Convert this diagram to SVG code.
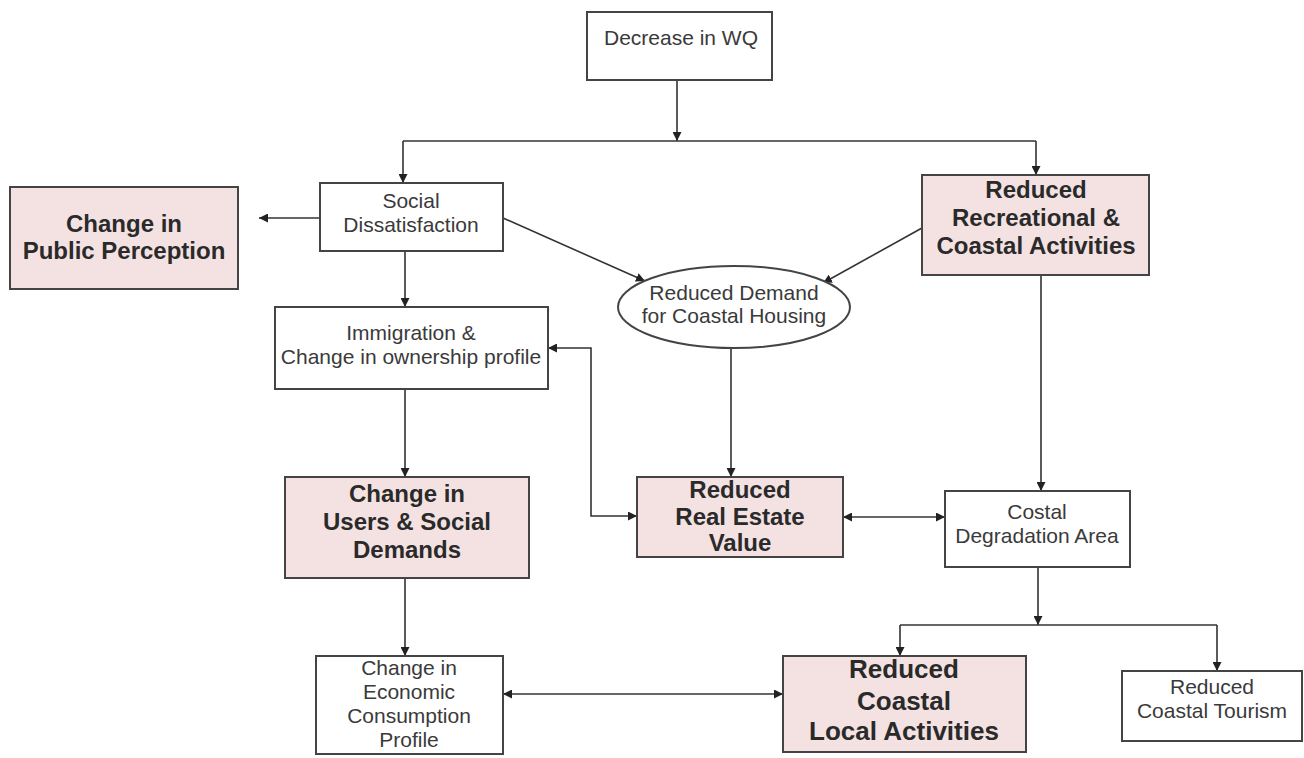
<svg xmlns="http://www.w3.org/2000/svg" width="1304" height="758" viewBox="0 0 1304 758">
<defs>
<marker id="ah" viewBox="0 0 10 10" refX="10" refY="5" markerWidth="9" markerHeight="9" markerUnits="userSpaceOnUse" orient="auto-start-reverse">
<path d="M0,0 L10,5 L0,10 z" fill="#222"/>
</marker>
<style>
.box{fill:#ffffff;stroke:#444;stroke-width:2}
.pink{fill:#f4e2e2;stroke:#444;stroke-width:2}
.t{font-family:"Liberation Sans",Arial,sans-serif;font-size:21px;fill:#3a3a3a;text-anchor:middle}
.b{font-family:"Liberation Sans",Arial,sans-serif;font-size:24px;font-weight:bold;fill:#2a2a2a;text-anchor:middle}
.c{fill:none;stroke:#333;stroke-width:1.6}
</style>
</defs>
<rect width="1304" height="758" fill="#ffffff"/>
<g id="connectors">
<line class="c" x1="677" y1="80" x2="677" y2="141" marker-end="url(#ah)"/>
<line class="c" x1="403" y1="141" x2="1036" y2="141"/>
<line class="c" x1="403" y1="141" x2="403" y2="183" marker-end="url(#ah)"/>
<line class="c" x1="1036" y1="141" x2="1036" y2="175" marker-end="url(#ah)"/>
<line class="c" x1="320" y1="218" x2="259" y2="218" marker-end="url(#ah)"/>
<line class="c" x1="503" y1="218" x2="645" y2="281" marker-end="url(#ah)"/>
<line class="c" x1="922" y1="228" x2="823" y2="283" marker-end="url(#ah)"/>
<line class="c" x1="405" y1="251" x2="405" y2="307" marker-end="url(#ah)"/>
<line class="c" x1="405" y1="389" x2="405" y2="477" marker-end="url(#ah)"/>
<path class="c" d="M548,348 H591 V516 H637" marker-start="url(#ah)" marker-end="url(#ah)"/>
<line class="c" x1="731" y1="348" x2="731" y2="477" marker-end="url(#ah)"/>
<line class="c" x1="843" y1="517" x2="945" y2="517" marker-start="url(#ah)" marker-end="url(#ah)"/>
<line class="c" x1="1041" y1="275" x2="1041" y2="491" marker-end="url(#ah)"/>
<line class="c" x1="1038" y1="567" x2="1038" y2="625" marker-end="url(#ah)"/>
<line class="c" x1="900" y1="625" x2="1217" y2="625"/>
<line class="c" x1="900" y1="625" x2="900" y2="656" marker-end="url(#ah)"/>
<line class="c" x1="1217" y1="625" x2="1217" y2="671" marker-end="url(#ah)"/>
<line class="c" x1="405" y1="578" x2="405" y2="656" marker-end="url(#ah)"/>
<line class="c" x1="503" y1="694" x2="783" y2="694" marker-start="url(#ah)" marker-end="url(#ah)"/>
</g>
<g id="n_wq">
<rect class="box" x="587" y="12" width="185" height="68"/>
<text class="t" x="681" y="45">Decrease in WQ</text>
</g>
<g id="n_sd">
<rect class="box" x="320" y="183" width="183" height="68"/>
<text class="t" x="411" y="208">Social</text>
<text class="t" x="411" y="232">Dissatisfaction</text>
</g>
<g id="n_cpp">
<rect class="pink" x="10" y="187" width="228" height="102"/>
<text class="b" x="124" y="232">Change in</text>
<text class="b" x="124" y="259">Public Perception</text>
</g>
<g id="n_rrc">
<rect class="pink" x="922" y="175" width="227" height="100"/>
<text class="b" x="1036" y="198">Reduced</text>
<text class="b" x="1036" y="226">Recreational &amp;</text>
<text class="b" x="1036" y="254">Coastal Activities</text>
</g>
<g id="n_rdch">
<ellipse cx="734" cy="307" rx="116" ry="41" fill="#ffffff" stroke="#444" stroke-width="2"/>
<text class="t" x="734" y="300">Reduced Demand</text>
<text class="t" x="734" y="323">for Coastal Housing</text>
</g>
<g id="n_imm">
<rect class="box" x="275" y="307" width="273" height="82"/>
<text class="t" x="411" y="340">Immigration &amp;</text>
<text class="t" x="411" y="364">Change in ownership profile</text>
</g>
<g id="n_cusd">
<rect class="pink" x="285" y="477" width="244" height="101"/>
<text class="b" x="407" y="502">Change in</text>
<text class="b" x="407" y="530">Users &amp; Social</text>
<text class="b" x="407" y="558">Demands</text>
</g>
<g id="n_rrev">
<rect class="pink" x="637" y="477" width="206" height="80"/>
<text class="b" x="740" y="498">Reduced</text>
<text class="b" x="740" y="525">Real Estate</text>
<text class="b" x="740" y="551">Value</text>
</g>
<g id="n_cda">
<rect class="box" x="945" y="491" width="185" height="76"/>
<text class="t" x="1037" y="519">Costal</text>
<text class="t" x="1037" y="543">Degradation Area</text>
</g>
<g id="n_cecp">
<rect class="box" x="316" y="656" width="187" height="98"/>
<text class="t" x="409" y="675">Change in</text>
<text class="t" x="409" y="699">Economic</text>
<text class="t" x="409" y="723">Consumption</text>
<text class="t" x="409" y="747">Profile</text>
</g>
<g id="n_rcla">
<rect class="pink" x="783" y="656" width="243" height="96"/>
<text class="b" x="904" y="678" style="font-size:26px">Reduced</text>
<text class="b" x="904" y="710" style="font-size:26px">Coastal</text>
<text class="b" x="904" y="740" style="font-size:26px">Local Activities</text>
</g>
<g id="n_rct">
<rect class="box" x="1122" y="671" width="180" height="70"/>
<text class="t" x="1212" y="694">Reduced</text>
<text class="t" x="1212" y="718">Coastal Tourism</text>
</g>
</svg>
